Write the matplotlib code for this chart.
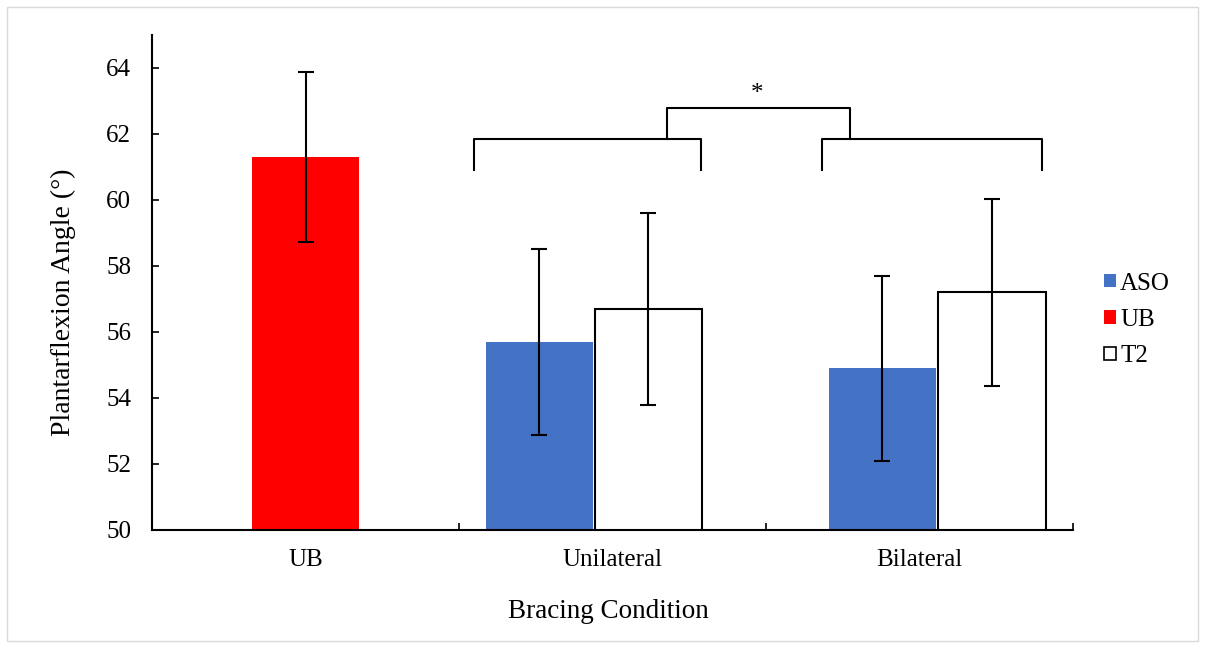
import numpy as np
import matplotlib.pyplot as plt
from matplotlib.patches import Patch, Rectangle

plt.rcParams['font.family'] = ['Liberation Serif', 'DejaVu Serif']

categories = ['UB', 'Unilateral', 'Bilateral']

ub_mean = [61.3]
ub_sd = [2.57]
aso_mean = [55.7, 54.9]
aso_sd = [2.81, 2.81]
t2_mean = [56.7, 57.2]
t2_sd = [2.90, 2.84]

# excel put the clustered bars slightly off-centre, keep that look
ub_pos = np.array([0.0])
aso_pos = np.array([1, 2]) + np.array([-0.238, -0.121])
t2_pos = np.array([1, 2]) + np.array([0.117, 0.236])
bar_w = 0.35

FS = 18
TITLE_FS = 19.5
ASO_COL = '#4472C4'
UB_COL = '#FF0000'

fig = plt.figure(figsize=(12.05, 6.48), dpi=100)
fig.patches.append(Rectangle((7 / 1205, 7 / 648), 1191 / 1205, 634 / 648,
                             transform=fig.transFigure, fill=False,
                             edgecolor='#d9d9d9', lw=1))
ax = fig.add_axes([152 / 1205, 1 - 530 / 648, 921 / 1205, 495 / 648])

err_kw = dict(ecolor='black', elinewidth=1.5, capsize=6, capthick=1.5, zorder=4)

ax.bar(aso_pos, aso_mean, width=bar_w, color=ASO_COL, edgecolor='none',
       yerr=aso_sd, error_kw=err_kw, zorder=2)
ax.bar(ub_pos, ub_mean, width=bar_w, color=UB_COL, edgecolor='none',
       yerr=ub_sd, error_kw=err_kw, zorder=2)
ax.bar(t2_pos, t2_mean, width=bar_w, color='white', edgecolor='black',
       linewidth=1.5, yerr=t2_sd, error_kw=err_kw, zorder=2)

ax.set_xlim(-0.5, 2.5)
ax.set_ylim(50, 65)
ax.set_yticks(np.arange(50, 65, 2))
ax.set_xticks(range(len(categories)))
ax.set_xticklabels(categories, fontsize=FS)
ax.set_xticks([0.5, 1.5, 2.5], minor=True)
ax.tick_params(axis='x', which='major', length=0, pad=14)
ax.tick_params(axis='x', which='minor', direction='in', length=5, width=1.2)
ax.tick_params(axis='y', direction='in', length=5, width=1.2, pad=15,
               labelsize=FS)

for s in ['top', 'right']:
    ax.spines[s].set_visible(False)
for s in ['left', 'bottom']:
    ax.spines[s].set_linewidth(1.5)

ax.set_ylabel('Plantarflexion Angle (°)', fontsize=20)
ax.yaxis.set_label_coords(-0.0825, 0.4606)
ax.set_xlabel('Bracing Condition', fontsize=TITLE_FS)
ax.xaxis.set_label_coords(0.5 - 4 / 921, -0.139)

# significance brackets
lo, mid, hi = 60.91, 61.85, 62.79
br = dict(color='black', lw=1.5, clip_on=False)
ax.plot([0.549, 0.549, 1.288, 1.288], [lo, mid, mid, lo], **br)
ax.plot([1.682, 1.682, 2.399, 2.399], [lo, mid, mid, lo], **br)
ax.plot([1.1775, 1.1775, 1.7736, 1.7736], [mid, hi, hi, mid], **br)
ax.text(1.47, 63.2, '*', ha='center', va='center', fontsize=FS)

handles = [Patch(facecolor=ASO_COL, edgecolor='none', label='ASO'),
           Patch(facecolor=UB_COL, edgecolor='none', label='UB'),
           Patch(facecolor='white', edgecolor='black', lw=1.2, label='T2')]
fig.legend(handles=handles, loc='center left',
           bbox_to_anchor=(1104 / 1205, 1 - 320 / 648),
           frameon=False, fontsize=FS, handlelength=0.47, handleheight=0.47,
           handletextpad=0.18, labelspacing=0.58, borderpad=0, borderaxespad=0)

fig.savefig('out.png', dpi=100)
